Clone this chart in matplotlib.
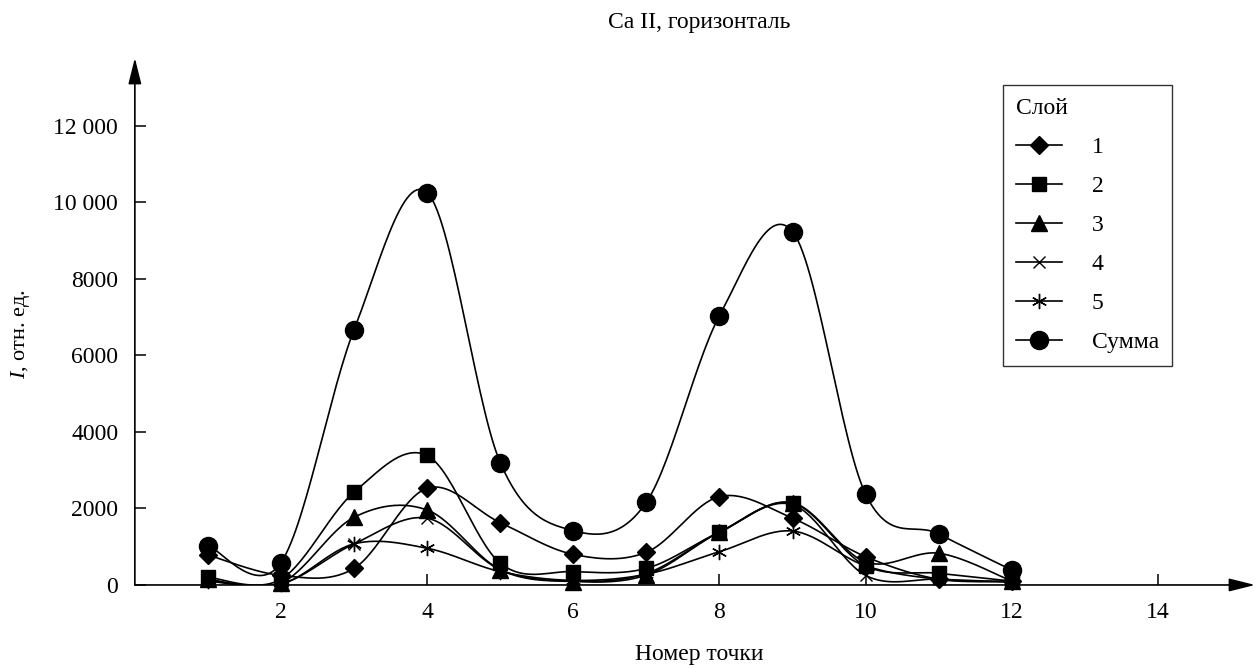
import numpy as np
import matplotlib
matplotlib.use("Agg")
import matplotlib.pyplot as plt

plt.rcParams["font.family"] = ["Liberation Serif", "DejaVu Serif"]
plt.rcParams["mathtext.fontset"] = "custom"
plt.rcParams["mathtext.it"] = "Liberation Serif:italic"
plt.rcParams["mathtext.rm"] = "Liberation Serif"

# номера точек
points = [1, 2, 3, 4, 5, 6, 7, 8, 9, 10, 11, 12]

# интенсивности по слоям (отн. ед.)
layer1 = [785, 250, 435, 2530, 1630, 800, 855, 2310, 1745, 740, 150, 100]
layer2 = [200, 150, 2425, 3385, 570, 350, 435, 1380, 2140, 500, 305, 100]
layer3 = [150, 50, 1770, 1960, 400, 90, 260, 1380, 2150, 600, 830, 100]
layer4 = [120, 30, 1075, 1745, 400, 100, 300, 1380, 2100, 250, 150, 80]
layer5 = [100, 20, 1075, 960, 350, 120, 280, 870, 1410, 500, 150, 80]
total = [1030, 585, 6675, 10260, 3200, 1420, 2165, 7040, 9240, 2375, 1335, 390]

labels = ["1", "2", "3", "4", "5", "Сумма"]
series = [layer1, layer2, layer3, layer4, layer5, total]
markers = ["D", "s", "^", "x", (6, 2, 0), "o"]
msizes = [9, 10, 12, 9, 11, 13]

yticks = [0, 2000, 4000, 6000, 8000, 10000, 12000]
ytick_labels = ["0", "2000", "4000", "6000", "8000", "10 000", "12 000"]
xticks = [2, 4, 6, 8, 10, 12, 14]


def smooth(x, y, n=30):
    # сглаживание Катмулла-Рома (как "сглаженная линия")
    x = np.asarray(x, float)
    y = np.asarray(y, float)
    px = np.concatenate([[x[0]], x, [x[-1]]])
    py = np.concatenate([[y[0]], y, [y[-1]]])
    xs, ys = [], []
    t = np.linspace(0, 1, n)
    for i in range(1, len(px) - 2):
        for p, out in ((px, xs), (py, ys)):
            p0, p1, p2, p3 = p[i - 1], p[i], p[i + 1], p[i + 2]
            out.append(0.5 * ((2 * p1) + (-p0 + p2) * t
                              + (2 * p0 - 5 * p1 + 4 * p2 - p3) * t ** 2
                              + (-p0 + 3 * p1 - 3 * p2 + p3) * t ** 3))
    return np.concatenate(xs), np.concatenate(ys)


fig = plt.figure(figsize=(12.58, 6.68), dpi=100)
ax = fig.add_axes([0.1072, 0.1243, 0.8905, 0.789])

for vals, lab, mk, ms in zip(series, labels, markers, msizes):
    sx, sy = smooth(points, vals)
    ax.plot(sx, sy, color="black", lw=1.2)
    ax.plot(points, vals, linestyle="none", marker=mk, ms=ms, color="black",
            mew=1.0, clip_on=False)
    ax.plot([], [], color="black", lw=1.2, marker=mk, ms=ms,
            mew=1.0, label=lab)

ax.set_xlim(0, 15.33)
ax.set_ylim(0, 13780)
for s in ax.spines.values():
    s.set_visible(False)

arrow = dict(arrowstyle="-|>,head_length=0.8,head_width=0.2",
             color="black", lw=1.2, mutation_scale=20, shrinkA=0, shrinkB=0)
ax.annotate("", xy=(1, 0), xytext=(0, 0), xycoords="axes fraction",
            arrowprops=arrow)
ax.annotate("", xy=(0, 1), xytext=(0, 0), xycoords="axes fraction",
            arrowprops=arrow)

ax.set_xticks(xticks)
ax.set_yticks(yticks)
ax.set_yticklabels(ytick_labels)
ax.tick_params(axis="both", direction="in", length=8, width=1.1,
               labelsize=17, color="black")
ax.tick_params(axis="x", pad=12)
ax.tick_params(axis="y", pad=12)

fig.text(0.556, 0.966, "Ca II, горизонталь", ha="center", va="center",
         fontsize=17)
fig.text(0.556, 0.004, "Номер точки", ha="center", va="bottom", fontsize=17)
fig.text(0.016, 0.50, r"$\mathit{I}$, отн. ед.", rotation=90,
         ha="center", va="center", fontsize=16)

leg = ax.legend(title="Слой", loc="upper left", bbox_to_anchor=(0.775, 0.949),
                borderaxespad=0, fontsize=17, title_fontsize=17, frameon=True,
                fancybox=False, edgecolor="black", alignment="left",
                handlelength=1.95, handletextpad=1.25, labelspacing=0.74,
                borderpad=0.55)
leg.get_frame().set_linewidth(1.0)

fig.savefig("out.png", dpi=100)
